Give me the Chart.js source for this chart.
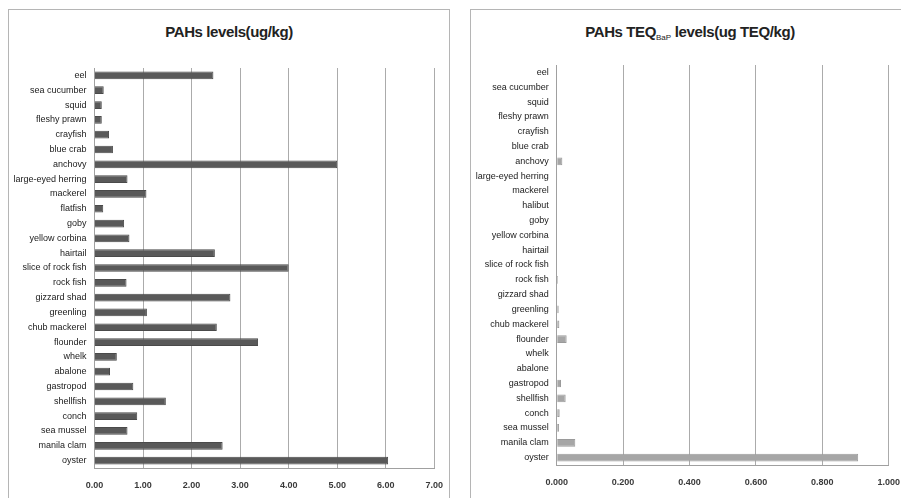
<!DOCTYPE html>
<html>
<head>
<meta charset="utf-8">
<script src="https://cdn.jsdelivr.net/npm/chart.js@4.4.1/dist/chart.umd.min.js"></script>
<style>
  body { margin: 0; background: #fff; width: 901px; height: 498px; overflow: hidden; position: relative; }
  .panel { position: absolute; top: 9px; height: 520px; border: 1px solid #b5b5b5; box-sizing: border-box; }
  .title { position: absolute; top: 13px; left: 0; right: 0; text-align: center;
           font-family: "Liberation Sans", Arial, sans-serif; letter-spacing: -0.4px;
           font-weight: bold; font-size: 15px; color: #222; }
  .title sub { font-size: 8px; vertical-align: -3px; font-weight: normal; letter-spacing: 0; }
  canvas { position: absolute; }
</style>
</head>
<body>

<div class="panel" style="left:8px; width:442px;">
  <div class="title">PAHs levels(ug/kg)</div>
</div>
<div class="panel" style="left:470px; width:440px;">
  <div class="title">PAHs TEQ<sub>BaP</sub> levels(ug TEQ/kg)</div>
</div>

<canvas id="levelsChart" width="446" height="453" style="left:9px; top:45px;"></canvas>
<canvas id="teqChart" width="441" height="453" style="left:471px; top:45px;"></canvas>

<script>
// species, top to bottom like in the picture
const levelSpecies = ['eel', 'sea cucumber', 'squid', 'fleshy prawn', 'crayfish', 'blue crab', 'anchovy',
  'large-eyed herring', 'mackerel', 'flatfish', 'goby', 'yellow corbina', 'hairtail', 'slice of rock fish',
  'rock fish', 'gizzard shad', 'greenling', 'chub mackerel', 'flounder', 'whelk', 'abalone', 'gastropod',
  'shellfish', 'conch', 'sea mussel', 'manila clam', 'oyster'];
const teqSpecies = ['eel', 'sea cucumber', 'squid', 'fleshy prawn', 'crayfish', 'blue crab', 'anchovy',
  'large-eyed herring', 'mackerel', 'halibut', 'goby', 'yellow corbina', 'hairtail', 'slice of rock fish',
  'rock fish', 'gizzard shad', 'greenling', 'chub mackerel', 'flounder', 'whelk', 'abalone', 'gastropod',
  'shellfish', 'conch', 'sea mussel', 'manila clam', 'oyster'];

// ug/kg
const pahLevels = [2.45, 0.19, 0.15, 0.15, 0.30, 0.38, 5.00, 0.68, 1.07, 0.18, 0.61, 0.72, 2.48, 4.00,
  0.66, 2.80, 1.08, 2.52, 3.37, 0.46, 0.32, 0.80, 1.47, 0.88, 0.68, 2.64, 6.05];
// ug TEQ/kg
const teqLevels = [0, 0, 0, 0, 0, 0.002, 0.017, 0.002, 0, 0, 0, 0, 0, 0,
  0.004, 0.002, 0.006, 0.008, 0.030, 0, 0, 0.013, 0.027, 0.009, 0.007, 0.056, 0.908];

const levelTicks = [0, 1, 2, 3, 4, 5, 6, 7];
const teqTicks = [0, 0.2, 0.4, 0.6, 0.8, 1.0];

const fontFam = '"Liberation Sans", Arial, sans-serif';

function makeBarChart(id, labels, values, opts) {
  const ctx = document.getElementById(id).getContext('2d');
  return new Chart(ctx, {
    type: 'bar',
    data: {
      labels: labels,
      datasets: [{
        data: values,
        backgroundColor: opts.color,
        borderColor: opts.border,
        borderWidth: 1,
        barPercentage: 0.52,
        categoryPercentage: 1
      }]
    },
    options: {
      indexAxis: 'y',
      responsive: false,
      animation: false,
      layout: { padding: { top: opts.padTop, right: 0, left: 0, bottom: 0 } },
      plugins: { legend: { display: false }, tooltip: { enabled: false } },
      scales: {
        x: {
          min: 0,
          max: opts.max,
          afterBuildTicks: axis => { axis.ticks = opts.ticks.map(v => ({ value: v })); },
          afterFit: axis => { axis.height = opts.xHeight; },
          grid: { color: '#ababab', lineWidth: 1, drawTicks: false },
          border: { color: '#a0a0a0' },
          ticks: {
            padding: 12,
            color: '#3a3a3a',
            font: { family: fontFam, size: 9, weight: 'bold' },
            callback: v => v.toFixed(opts.digits)
          }
        },
        y: {
          afterFit: axis => { axis.width = opts.yWidth; },
          grid: { display: false, drawTicks: false },
          border: { color: '#a0a0a0' },
          ticks: {
            padding: 8,
            autoSkip: false,
            color: '#1a1a1a',
            font: { family: fontFam, size: 9 }
          }
        }
      }
    }
  });
}

makeBarChart('levelsChart', levelSpecies, pahLevels, {
  color: '#595959', border: '#4a4a4a', max: 7, ticks: levelTicks, digits: 2,
  padTop: 23, xHeight: 30, yWidth: 85.5
});

makeBarChart('teqChart', teqSpecies, teqLevels, {
  color: '#a6a6a6', border: '#9a9a9a', max: 1, ticks: teqTicks, digits: 3,
  padTop: 20, xHeight: 33, yWidth: 85.7
});
</script>
</body>
</html>
